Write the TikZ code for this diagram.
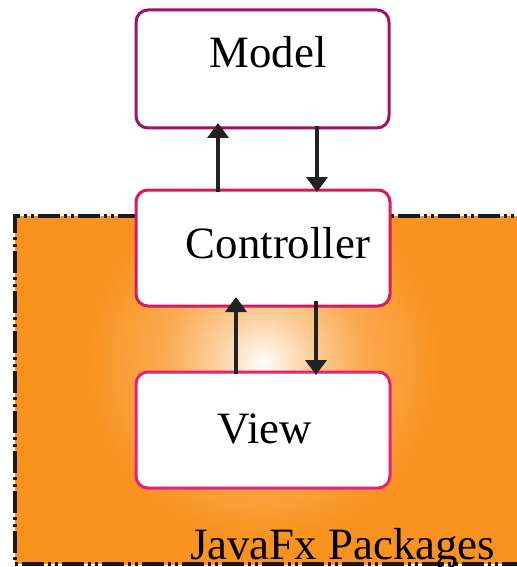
\documentclass[tikz,border=0pt]{standalone}
\usepackage{fontspec}
\setmainfont{Liberation Serif}
\usetikzlibrary{arrows.meta}
\definecolor{fxorange}{HTML}{F9921E}
\definecolor{modelrim}{HTML}{A3125F}
\definecolor{ctrlrim}{HTML}{D61A5E}
\definecolor{viewrim}{HTML}{E9207A}
\definecolor{ink}{HTML}{222222}
% soft light spot in the package area
\pgfdeclareradialshading{glow}{\pgfpoint{0bp}{0bp}}{%
  color(0bp)=(white);
  color(1.4bp)=(fxorange!15!white);
  color(4.8bp)=(fxorange!45!white);
  color(10bp)=(fxorange!78!white);
  color(18bp)=(fxorange);
  color(50bp)=(fxorange)}
\tikzset{
  layer/.style={rounded corners=12bp, line width=3bp, fill=white},
  label/.style={anchor=base, inner sep=0pt, font=\fontsize{45}{54}\selectfont},
  flow/.style={draw=ink, line width=4bp, -{Triangle[length=15bp,width=21bp]}},
  frame/.style={draw=black!90, line width=4bp, dash pattern=on 22bp off 4bp on 3bp off 4bp on 3bp off 4bp}
}
\begin{document}
\begin{tikzpicture}[x=1bp,y=-1bp]
\useasboundingbox (0,0) rectangle (517,567);
\begin{scope}
  \clip (-10,-10) rectangle (540,580);
  % package area
  \begin{scope}
    \clip (15,216) rectangle (540,564);
    \fill[fxorange] (15,216) rectangle (540,564);
    \shade[shading=glow] (263,362) circle (250);
  \end{scope}
  \draw[frame] (540,216) -- (15,216) -- (15,564) -- (540,564);
\end{scope}

% layers
\path[layer, draw=modelrim] (136,10) rectangle (389,128) node[pos=0.5] (model) {};
\path[layer, draw=ctrlrim]  (136,190) rectangle (390,306) node[pos=0.5] (ctrl) {};
\path[layer, draw=viewrim]  (136,372) rectangle (390,488) node[pos=0.5] (view) {};
\coordinate (mbot) at (136,128);
\coordinate (ctop) at (136,190);
\coordinate (cbot) at (136,306);
\coordinate (vtop) at (136,372);

\node[label] (mtext) at (268,68) {Model};
\node[label] (ctext) at (278,258) {Controller};
\node[label] (vtext) at (265,443) {View};
\node[label, anchor=base west] (pkg) at (190,559) {JavaFx Packages};

% message flow between layers
\coordinate (a1) at (218,0);
\coordinate (a2) at (317,0);
\coordinate (a3) at (236,0);
\coordinate (a4) at (316,0);
\draw[flow] ([yshift=-1.5bp]ctop -| a1) -- ([yshift=5bp]mbot -| a1);
\draw[flow] ([yshift=2bp]mbot -| a2) -- ([yshift=-2bp]ctop -| a2);
\draw[flow] ([yshift=-1.5bp]vtop -| a3) -- ([yshift=9bp]cbot -| a3);
\draw[flow] ([yshift=5bp]cbot -| a4) -- ([yshift=-3bp]vtop -| a4);
\end{tikzpicture}
\end{document}
